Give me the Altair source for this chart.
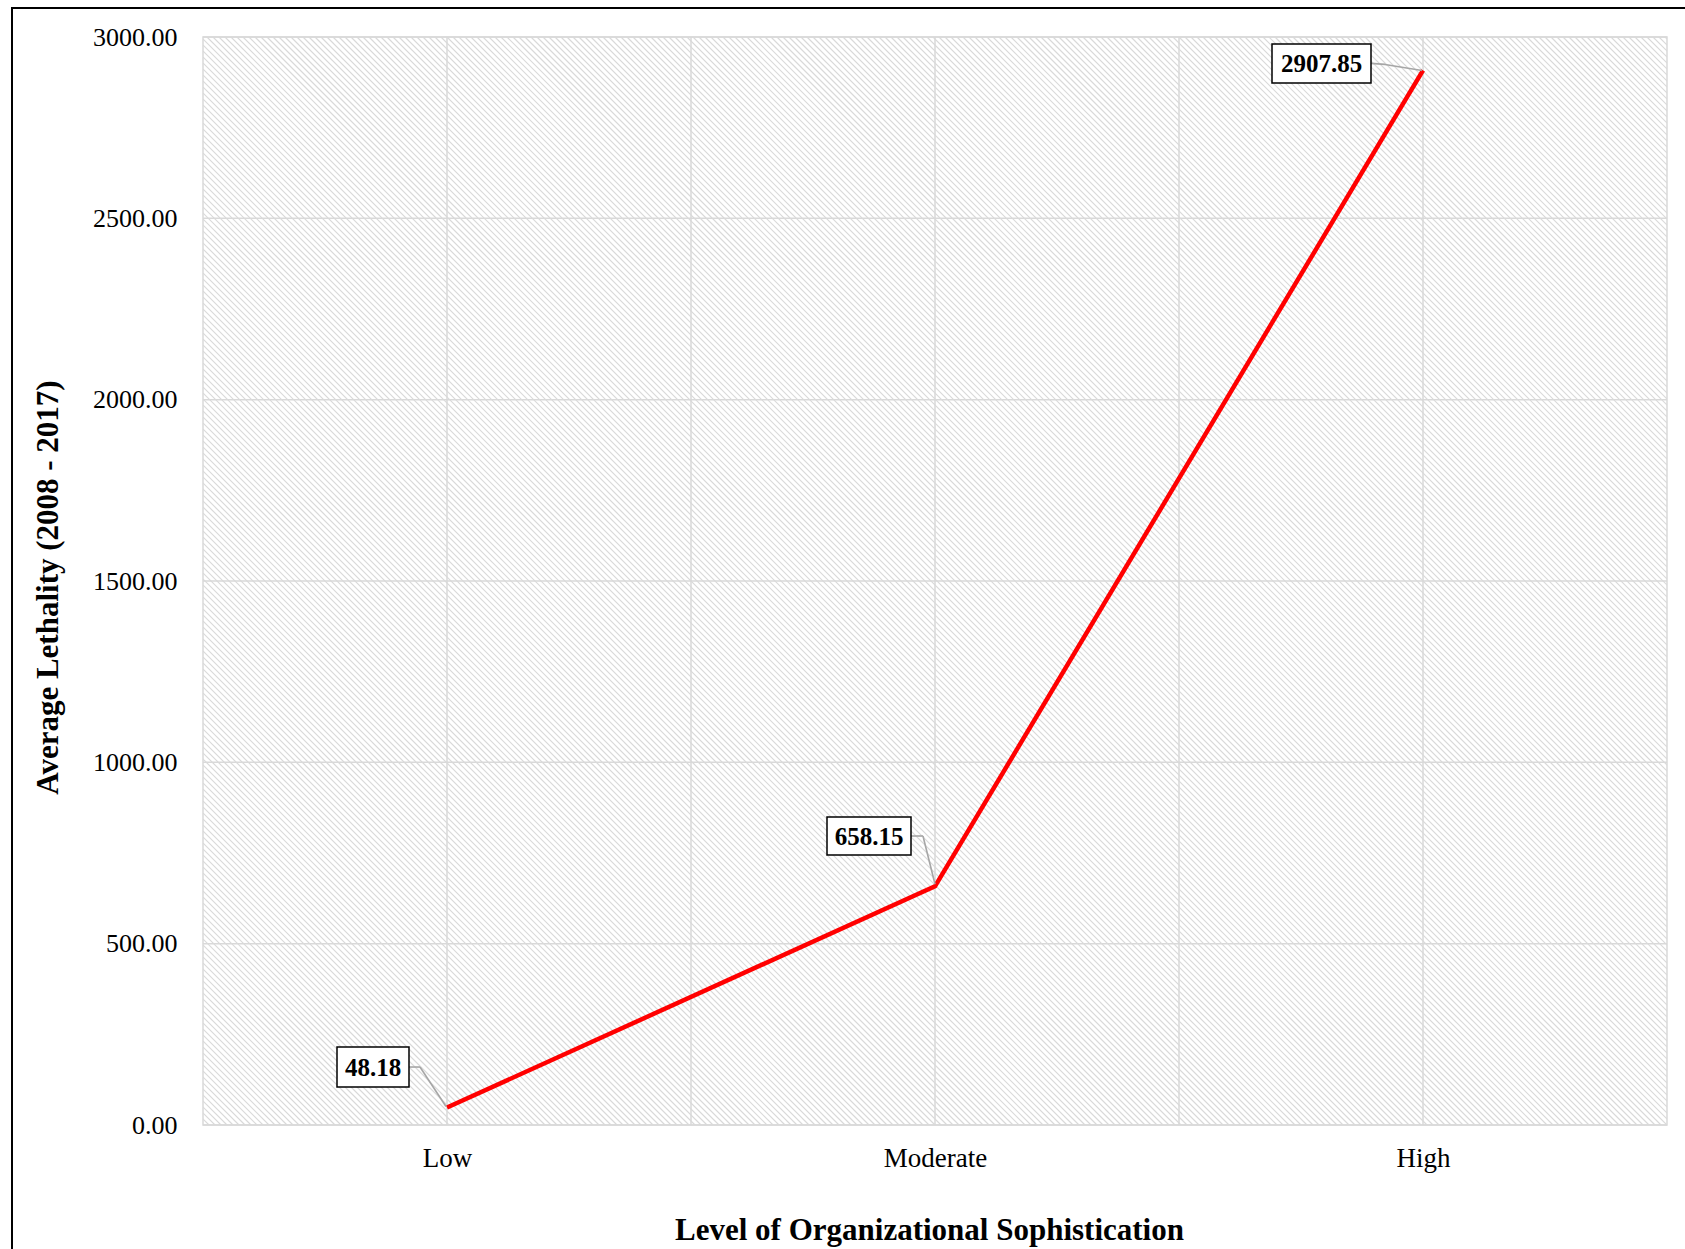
import altair as alt
import pandas as pd
import numpy as np

# ---- data ----
categories = ["Low", "Moderate", "High"]
lethality = [48.18, 658.15, 2907.85]
y_ticks = [0, 500, 1000, 1500, 2000, 2500, 3000]
x_title = "Level of  Organizational Sophistication"
y_title = "Average Lethality (2008 - 2017)"

# ---- layout ----
W, H = 1464, 1088
PAD_L, PAD_T = 203, 37
CANVAS_W, CANVAS_H = 1685, 1249
N = len(categories)
YMAX = 3000
FONT = "Liberation Serif"
GRID = "#d9d9d9"

df = pd.DataFrame({"cat": categories, "val": lethality,
                   "pos": [i + 0.5 for i in range(N)]})

xscale = alt.Scale(domain=[0, N], nice=False, zero=False)
yscale = alt.Scale(domain=[0, YMAX], nice=False)

x_axis = alt.Axis(values=[i + 0.5 for i in range(N)],
                  labelExpr="[" + ",".join("'%s'" % c for c in categories) + "][datum.value - 0.5]",
                  tickSize=0, domain=False, grid=False,
                  labelFont=FONT, labelFontSize=27, labelColor="#000000",
                  labelPadding=20, labelBaseline="top",
                  title=x_title, titleFont=FONT, titleFontSize=31,
                  titleFontWeight="bold", titleColor="#000000",
                  titleX=W / 2 - 6, titleY=114, titleBaseline="alphabetic",
                  titleAlign="center")
y_axis = alt.Axis(values=y_ticks, format=".2f", tickSize=0, domain=False,
                  grid=False, labelFont=FONT, labelFontSize=26,
                  labelColor="#000000", labelPadding=26,
                  title=y_title, titleFont=FONT, titleFontSize=31,
                  titleFontWeight="bold", titleColor="#000000",
                  titleX=-155, titleY=550, titleAngle=270,
                  titleAlign="center", titleBaseline="middle")


def X(field):
    return alt.X(field, scale=xscale, axis=x_axis)


def Y(field):
    return alt.Y(field, scale=yscale, axis=y_axis)


# background hatch (decoration: wide downward diagonal)
s = 6
starts = np.arange(-H, W + s, s)
hatch = pd.DataFrame({"x": starts / W * N, "x2": (starts + H) / W * N,
                      "y": YMAX, "y2": 0})

hatch_layer = alt.Chart(hatch).mark_rule(
    color="#d9d9d9", strokeWidth=1.2, clip=True
).encode(x=X("x:Q"), x2="x2:Q", y=Y("y:Q"), y2="y2:Q")

hgrid = alt.Chart(pd.DataFrame({"t": y_ticks})).mark_rule(
    color=GRID, strokeWidth=1.5
).encode(y=Y("t:Q"))

vgrid = alt.Chart(pd.DataFrame({"g": [i * 0.5 for i in range(1, 2 * N)]})).mark_rule(
    color=GRID, strokeWidth=1.5
).encode(x=X("g:Q"))

line = alt.Chart(df).mark_line(color="#ff0000", strokeWidth=4.5).encode(
    x=X("pos:Q"), y=Y("val:Q"), order="pos:Q",
)

# label placement (pixel offsets relative to each data point)
label_layout = {
    "Low":      dict(box=(-110, -38, -60.5, -20.5), text=(-74, -40.5),
                     lead=[(-38, -40.5), (-27, -40.5), (-1, -1)]),
    "Moderate": dict(box=(-108, -24, -69.3, -31.3), text=(-66, -50.3),
                     lead=[(-24, -50.3), (-12, -50.3), (0, -2)]),
    "High":     dict(box=(-151, -52, -26.4, 12.6), text=(-101.5, -7),
                     lead=[(-52, -7), (-38, -6), (-1, 0)]),
}

label_layers = []
for cat in categories:
    L = label_layout[cat]
    base = alt.Chart(df).transform_filter(alt.datum.cat == cat)
    enc = dict(x=X("pos:Q"), y=Y("val:Q"))
    pts = L["lead"]
    for (a, b) in zip(pts[:-1], pts[1:]):
        label_layers.append(base.mark_rule(
            color="#a6a6a6", strokeWidth=1.6,
            xOffset=a[0], x2Offset=b[0], yOffset=a[1], y2Offset=b[1]
        ).encode(x2="pos:Q", y2="val:Q", **enc))
    bx0, bx1, by0, by1 = L["box"]
    label_layers.append(base.mark_rect(
        fill="white", stroke="black", strokeWidth=1.5,
        xOffset=bx0, x2Offset=bx1, yOffset=by0, y2Offset=by1
    ).encode(x2="pos:Q", y2="val:Q", **enc))
    tx, ty = L["text"]
    label_layers.append(base.mark_text(
        font=FONT, fontSize=25, fontWeight="bold", color="#000000",
        dx=tx, dy=ty + 1, align="center", baseline="middle"
    ).encode(text=alt.Text("val:Q", format=".2f"), **enc))

frame = alt.Chart(alt.Data(values=[{}])).mark_rect(
    fill=None, stroke="#000000", strokeWidth=2
).encode(
    x=alt.value(12 - PAD_L), x2=alt.value(CANVAS_W - PAD_L + 20),
    y=alt.value(8 - PAD_T), y2=alt.value(CANVAS_H - PAD_T + 20),
)

chart = alt.layer(
    hatch_layer, hgrid, vgrid, line, *label_layers, frame
).properties(
    width=W, height=H,
    padding={"left": PAD_L, "top": PAD_T,
             "right": CANVAS_W - PAD_L - W, "bottom": CANVAS_H - PAD_T - H},
    autosize=alt.AutoSizeParams(type="none"),
    background="white",
).configure_view(stroke=GRID, strokeWidth=1.5)

chart.save("out.html", embed_options={"renderer": "svg", "actions": False})
